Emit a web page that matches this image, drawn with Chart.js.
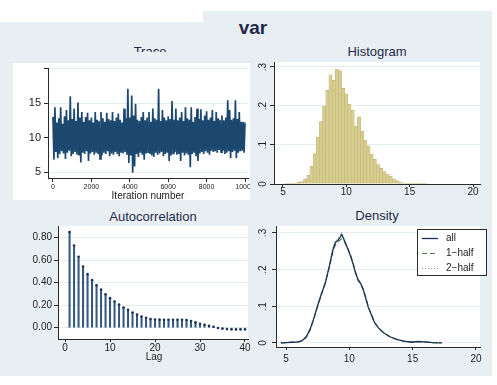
<!DOCTYPE html>
<html>
<head>
<meta charset="utf-8">
<title>var</title>
<script src="https://cdn.jsdelivr.net/npm/chart.js@4.4.1/dist/chart.umd.min.js"></script>
<style>
  html, body { margin: 0; padding: 0; background: #fff; }
  body { width: 497px; height: 385px; position: relative; overflow: hidden;
         font-family: "Liberation Sans", Arial, sans-serif; }
  .bg  { position: absolute; background: #e8eff2; }
  .txt { position: absolute; white-space: nowrap; transform: translateX(-50%);
         line-height: 1; color: #1e2a48; }
  .lbl { color: #222; }
  canvas { position: absolute; }
</style>
</head>
<body>
<div class="bg" style="left:0;top:22px;width:203px;height:354px"></div>
<div class="bg" style="left:203px;top:11px;width:289px;height:365px"></div>

<div class="txt" style="left:253px;top:18px;font-size:19px;font-weight:bold">var</div>
<div class="txt" style="left:150px;top:45px;font-size:13px">Trace</div>
<div class="bg" style="left:10px;top:52px;width:240px;height:11px"></div>
<div class="txt" style="left:377px;top:45px;font-size:13px">Histogram</div>
<div class="txt" style="left:153px;top:210px;font-size:13px">Autocorrelation</div>
<div class="txt" style="left:377px;top:209px;font-size:13px">Density</div>

<canvas id="traceChart" width="237" height="137" style="left:13px;top:63px;background:#fff"></canvas>
<canvas id="histChart"  width="242" height="145" style="left:250px;top:55px"></canvas>
<canvas id="acfChart"   width="240" height="150" style="left:10px;top:205px"></canvas>
<canvas id="densChart"  width="242" height="160" style="left:250px;top:205px"></canvas>

<div class="txt lbl" style="left:148px;top:191px;font-size:10px">Iteration number</div>
<div class="txt lbl" style="left:154px;top:352px;font-size:10px">Lag</div>

<script>
"use strict";

// ── Data ──────────────────────────────────────────────────────────────────
// trace: local highs every 100 iterations (0..10000), lows in between (50..9950)
const traceHigh = [
  13.0, 14.4, 12.2, 12.8, 14.4, 12.0, 13.1, 14.0, 12.5, 16.0,
  12.7, 14.2, 12.4, 15.1, 12.9, 13.7, 12.3, 13.0, 13.6, 12.5,
  12.9, 12.2, 13.7, 12.6, 12.4, 13.7, 12.8, 12.3, 13.6, 12.7,
  12.5, 13.7, 12.4, 12.9, 13.5, 12.6, 12.2, 14.2, 12.8, 17.1,
  12.9, 16.1, 13.2, 14.9, 12.6, 12.4, 13.0, 13.7, 12.5, 12.9,
  13.7, 12.3, 14.2, 12.8, 12.6, 17.1, 12.4, 14.0, 12.9, 12.5,
  13.1, 12.7, 15.3, 12.6, 14.2, 12.5, 12.9, 13.7, 12.4, 14.4,
  12.8, 12.6, 14.4, 12.3, 13.0, 14.2, 12.7, 14.1, 12.5, 13.2,
  13.8, 12.6, 12.9, 14.0, 12.4, 13.7, 12.8, 12.6, 13.2, 12.5,
  12.9, 15.4, 14.0, 12.6, 12.8, 15.4, 12.7, 13.7, 12.3, 12.3,
  12.2
];
const traceLow = [
  6.8, 7.9, 7.0, 7.6, 8.0, 7.7, 6.9, 7.8, 8.1, 7.3,
  7.6, 7.9, 7.5, 7.4, 6.4, 7.8, 7.6, 8.0, 6.6, 7.7,
  7.9, 7.5, 7.8, 7.6, 6.9, 7.4, 7.8, 7.6, 8.0, 7.3,
  7.7, 7.5, 7.9, 7.6, 7.3, 7.8, 7.7, 7.9, 7.5, 6.3,
  7.4, 4.9, 5.8, 7.6, 7.2, 7.8, 7.5, 6.8, 7.7, 7.9,
  7.6, 7.4, 7.2, 7.8, 7.5, 7.7, 7.9, 7.3, 7.6, 7.8,
  6.6, 7.4, 7.7, 7.9, 7.5, 7.6, 6.6, 7.8, 7.4, 7.7,
  7.5, 5.7, 7.6, 7.8, 7.3, 6.6, 7.7, 7.9, 7.6, 8.0,
  7.8, 7.5, 8.1, 7.9, 8.0, 7.8, 8.2, 7.9, 8.1, 7.6,
  7.8, 8.0, 7.0, 7.9, 8.1, 7.0, 7.8, 8.0, 8.1, 7.8
];
const traceXTicks = [0, 2000, 4000, 6000, 8000, 10000];
const traceYTicks = [5, 10, 15, 20];

// histogram: bin centres and densities
const histBins = [
  4.75, 5.0, 5.25, 5.5, 5.75, 6.0, 6.25, 6.5, 6.75, 7.0,
  7.25, 7.5, 7.75, 8.0, 8.25, 8.5, 8.75, 9.0, 9.25, 9.5,
  9.75, 10.0, 10.25, 10.5, 10.75, 11.0, 11.25, 11.5, 11.75, 12.0,
  12.25, 12.5, 12.75, 13.0, 13.25, 13.5, 13.75, 14.0, 14.25, 14.5,
  14.75, 15.0, 15.25, 15.5, 15.75, 16.0, 16.25, 16.5, 16.75, 17.0,
  17.25
];
const histHeights = [
  0.000, 0.000, 0.001, 0.002, 0.001, 0.002, 0.004, 0.006, 0.012, 0.022,
  0.045, 0.078, 0.120, 0.160, 0.200, 0.240, 0.280, 0.266, 0.294, 0.291,
  0.245, 0.231, 0.205, 0.190, 0.148, 0.172, 0.135, 0.112, 0.098, 0.077,
  0.063, 0.050, 0.040, 0.032, 0.025, 0.020, 0.013, 0.009, 0.005, 0.003,
  0.002, 0.001, 0.002, 0.002, 0.002, 0.001, 0.001, 0.000, 0.000, 0.000,
  0.000
];
const histXTicks = [5, 10, 15, 20];
const histYTicks = [0, 0.1, 0.2, 0.3];

// autocorrelation
const acfLags = [
  1, 2, 3, 4, 5, 6, 7, 8, 9, 10, 11, 12, 13, 14, 15, 16, 17, 18, 19, 20,
  21, 22, 23, 24, 25, 26, 27, 28, 29, 30, 31, 32, 33, 34, 35, 36, 37, 38, 39, 40
];
const acfValues = [
  0.850, 0.731, 0.630, 0.544, 0.476, 0.423, 0.378, 0.340, 0.298, 0.263,
  0.233, 0.206, 0.180, 0.159, 0.135, 0.117, 0.100, 0.088, 0.078, 0.073,
  0.072, 0.071, 0.071, 0.070, 0.071, 0.071, 0.069, 0.060, 0.048, 0.036,
  0.026, 0.017, 0.008, -0.002, -0.008, -0.012, -0.015, -0.015, -0.016, -0.015
];
const acfXTicks = [0, 10, 20, 30, 40];
const acfYTicks = [0, 0.2, 0.4, 0.6, 0.8];

// density
const densX = [
  4.6, 5.0, 5.5, 6.0, 6.3, 6.6, 6.9, 7.2, 7.5, 7.8,
  8.1, 8.4, 8.7, 8.9, 9.1, 9.25, 9.4, 9.55, 9.7, 9.9,
  10.1, 10.3, 10.5, 10.7, 10.9, 11.1, 11.3, 11.5, 11.75, 12.0,
  12.3, 12.7, 13.2, 13.8, 14.3, 14.9, 15.4, 15.9, 16.6, 17.3
];
const densAll = [
  0.000, 0.001, 0.002, 0.003, 0.007, 0.017, 0.037, 0.067, 0.102, 0.134,
  0.163, 0.206, 0.254, 0.274, 0.280, 0.287, 0.296, 0.284, 0.272, 0.255,
  0.237, 0.215, 0.190, 0.172, 0.162, 0.145, 0.122, 0.097, 0.076, 0.055,
  0.041, 0.028, 0.017, 0.009, 0.005, 0.002, 0.004, 0.003, 0.001, 0.000
];
const densHalf1 = [
  0.000, 0.001, 0.002, 0.003, 0.006, 0.016, 0.035, 0.066, 0.100, 0.133,
  0.165, 0.204, 0.248, 0.268, 0.276, 0.280, 0.284, 0.281, 0.270, 0.256,
  0.239, 0.218, 0.193, 0.170, 0.160, 0.147, 0.124, 0.099, 0.077, 0.056,
  0.042, 0.028, 0.017, 0.009, 0.005, 0.003, 0.004, 0.003, 0.001, 0.000
];
const densHalf2 = [
  0.000, 0.001, 0.002, 0.003, 0.008, 0.018, 0.039, 0.068, 0.104, 0.135,
  0.161, 0.208, 0.258, 0.279, 0.284, 0.293, 0.302, 0.288, 0.274, 0.254,
  0.235, 0.212, 0.187, 0.174, 0.164, 0.143, 0.120, 0.095, 0.075, 0.054,
  0.040, 0.028, 0.017, 0.009, 0.005, 0.002, 0.004, 0.003, 0.001, 0.000
];
const densLabels = ["all", "1\u2212half", "2\u2212half"];
const densXTicks = [5, 10, 15, 20];
const densYTicks = [0, 0.1, 0.2, 0.3];

// ── Styling ───────────────────────────────────────────────────────────────
const FONT = '"Liberation Sans", Arial, sans-serif';
const AXIS = "#2a2a2a";
const GRID = "#e4ecef";
const INK  = "#222";
const NAVY = "#1c4870";

const stataFmt = v => (v === 0 ? "0" : String(v).replace(/^0\./, "."));

// ── Helpers ───────────────────────────────────────────────────────────────
function fixTicks(values) {
  return s => { s.ticks = values.map(v => ({ value: v })); };
}
function fixSize(px) {
  return s => {
    if (s.isHorizontal()) s.height = px; else s.width = px;
    s.paddingLeft = s.paddingRight = s.paddingTop = s.paddingBottom = 0;
  };
}

function scalesFor(o) {
  return {
    x: {
      type: "linear", min: o.xMin, max: o.xMax, offset: false,
      afterBuildTicks: fixTicks(o.xTicks), afterFit: fixSize(o.xSize),
      border: { color: AXIS },
      grid: { drawOnChartArea: false, offset: false, tickLength: o.xTickLen, tickColor: AXIS },
      ticks: {
        autoSkip: false, maxRotation: 0, minRotation: 0, padding: o.xPad, color: INK,
        font: { family: FONT, size: o.xFont }, callback: v => String(v)
      }
    },
    y: {
      type: "linear", min: o.yMin, max: o.yMax,
      afterBuildTicks: fixTicks(o.yTicks), afterFit: fixSize(o.ySize),
      border: { color: AXIS },
      grid: { color: GRID, tickLength: 4, tickColor: AXIS },
      ticks: {
        display: o.yLabels !== false, padding: o.yPad || 3, color: INK,
        font: { family: FONT, size: o.yFont || 10 }, callback: o.yFmt || (v => String(v))
      }
    }
  };
}

// white plot region
const plotBg = {
  id: "plotBg",
  beforeDraw(chart) {
    const { ctx, chartArea: a } = chart;
    ctx.save();
    ctx.fillStyle = "#fff";
    ctx.fillRect(a.left, a.top, a.right - a.left, a.bottom - a.top);
    ctx.restore();
  }
};

// vertical (rotated) y tick labels, Stata style
const sideLabels = {
  id: "sideLabels",
  afterDraw(chart, args, opts) {
    const s = chart.scales.y, ctx = chart.ctx;
    ctx.save();
    ctx.font = "10px " + FONT;
    ctx.fillStyle = INK;
    ctx.textAlign = "center";
    ctx.textBaseline = "middle";
    s.ticks.forEach(t => {
      ctx.save();
      ctx.translate(opts.x, s.getPixelForValue(t.value));
      ctx.rotate(-Math.PI / 2);
      ctx.fillText(stataFmt(t.value), 0, 0);
      ctx.restore();
    });
    ctx.restore();
  }
};

// boxed legend inside the density panel
const boxLegend = {
  id: "boxLegend",
  afterDraw(chart, args, o) {
    const ctx = chart.ctx;
    ctx.save();
    ctx.fillStyle = "#fff";
    ctx.fillRect(o.x, o.y, o.w, o.h);
    ctx.strokeStyle = AXIS;
    ctx.lineWidth = 1;
    ctx.strokeRect(o.x + 0.5, o.y + 0.5, o.w - 1, o.h - 1);
    ctx.font = "10px " + FONT;
    ctx.textBaseline = "middle";
    chart.data.datasets.forEach((ds, i) => {
      const y = o.y + o.first + i * o.row;
      ctx.strokeStyle = ds.borderColor;
      ctx.lineWidth = ds.borderWidth;
      ctx.setLineDash(ds.borderDash || []);
      ctx.beginPath();
      ctx.moveTo(o.x + 5, y + 0.5);
      ctx.lineTo(o.x + 21, y + 0.5);
      ctx.stroke();
      ctx.setLineDash([]);
      ctx.fillStyle = INK;
      ctx.fillText(ds.label, o.x + 29, y);
    });
    ctx.restore();
  }
};

const baseOptions = {
  responsive: false,
  animation: false,
  devicePixelRatio: 1,
  events: [],
  plugins: { legend: { display: false }, tooltip: { enabled: false } }
};

// ── Trace ─────────────────────────────────────────────────────────────────
const tracePts = [];
traceHigh.forEach((h, i) => {
  tracePts.push({ x: i * 100, y: h });
  if (i < traceLow.length) tracePts.push({ x: i * 100 + 50, y: traceLow[i] });
});

new Chart(document.getElementById("traceChart"), {
  type: "scatter",
  data: {
    datasets: [{
      data: tracePts, showLine: true, borderColor: NAVY, borderWidth: 1.7,
      pointRadius: 0, tension: 0
    }]
  },
  options: {
    ...baseOptions,
    layout: { padding: { left: 0, top: 5, right: 2, bottom: 0 }, autoPadding: false },
    scales: scalesFor({
      xMin: -260, xMax: 10156, xTicks: traceXTicks, xSize: 22, xTickLen: 4, xPad: 1, xFont: 7,
      yMin: 4.13, yMax: 20.1, yTicks: traceYTicks, ySize: 35, yFont: 11, yPad: 3,
      yFmt: v => (v === 20 ? "" : String(v))
    })
  },
  plugins: [plotBg]
});

// ── Histogram ─────────────────────────────────────────────────────────────
new Chart(document.getElementById("histChart"), {
  type: "scatter",
  data: {
    datasets: [{
      type: "bar",
      data: histBins.map((b, i) => ({ x: b, y: histHeights[i] })),
      backgroundColor: "#d6cd8e", borderColor: "#bfb577", borderWidth: 0.6,
      barPercentage: 1, categoryPercentage: 1
    }]
  },
  options: {
    ...baseOptions,
    layout: { padding: { left: 0, top: 7, right: 12, bottom: 0 }, autoPadding: false },
    scales: scalesFor({
      xMin: 4.29, xMax: 20.55, xTicks: histXTicks, xSize: 16, xTickLen: 3, xPad: -1, xFont: 10,
      yMin: 0, yMax: 0.3128, yTicks: histYTicks, ySize: 24, yLabels: false
    }),
    plugins: { ...baseOptions.plugins, sideLabels: { x: 13 } }
  },
  plugins: [plotBg, sideLabels]
});

// ── Autocorrelation ───────────────────────────────────────────────────────
const acfPts = acfLags.map((l, i) => ({ x: l, y: acfValues[i] }));

new Chart(document.getElementById("acfChart"), {
  type: "scatter",
  data: {
    datasets: [
      { type: "scatter", data: acfPts, pointRadius: 1.3, pointBackgroundColor: "#1d3352",
        pointBorderWidth: 0 },
      { type: "bar", data: acfPts, barThickness: 1.4, backgroundColor: "#35597f" }
    ]
  },
  options: {
    ...baseOptions,
    layout: { padding: { left: 0, top: 21, right: 2, bottom: 0 }, autoPadding: false },
    scales: scalesFor({
      xMin: -1.57, xMax: 40.67, xTicks: acfXTicks, xSize: 16, xTickLen: 3, xPad: 0, xFont: 10,
      yMin: -0.10, yMax: 0.904, yTicks: acfYTicks, ySize: 48, yPad: 2,
      yFmt: v => v.toFixed(2)
    })
  },
  plugins: [plotBg]
});

// ── Density ───────────────────────────────────────────────────────────────
const curve = ys => densX.map((x, i) => ({ x, y: ys[i] }));

new Chart(document.getElementById("densChart"), {
  type: "scatter",
  data: {
    datasets: [
      { label: densLabels[0], data: curve(densAll), showLine: true, borderColor: "#1b3352",
        borderWidth: 1.3, pointRadius: 0 },
      { label: densLabels[1], data: curve(densHalf1), showLine: true, borderColor: "#4f7a4c",
        borderWidth: 1.2, borderDash: [5, 3], pointRadius: 0 },
      { label: densLabels[2], data: curve(densHalf2), showLine: true, borderColor: "#8f979c",
        borderWidth: 1, borderDash: [1, 2], pointRadius: 0 }
    ]
  },
  options: {
    ...baseOptions,
    layout: { padding: { left: 0, top: 21, right: 12, bottom: 0 }, autoPadding: false },
    scales: scalesFor({
      xMin: 4.21, xMax: 20.32, xTicks: densXTicks, xSize: 18, xTickLen: 3, xPad: 3, xFont: 10,
      yMin: -0.011, yMax: 0.319, yTicks: densYTicks, ySize: 26, yLabels: false
    }),
    plugins: {
      ...baseOptions.plugins,
      sideLabels: { x: 13 },
      boxLegend: { x: 167, y: 24, w: 70, h: 47, first: 9, row: 15 }
    }
  },
  plugins: [plotBg, sideLabels, boxLegend]
});
</script>
</body>
</html>
